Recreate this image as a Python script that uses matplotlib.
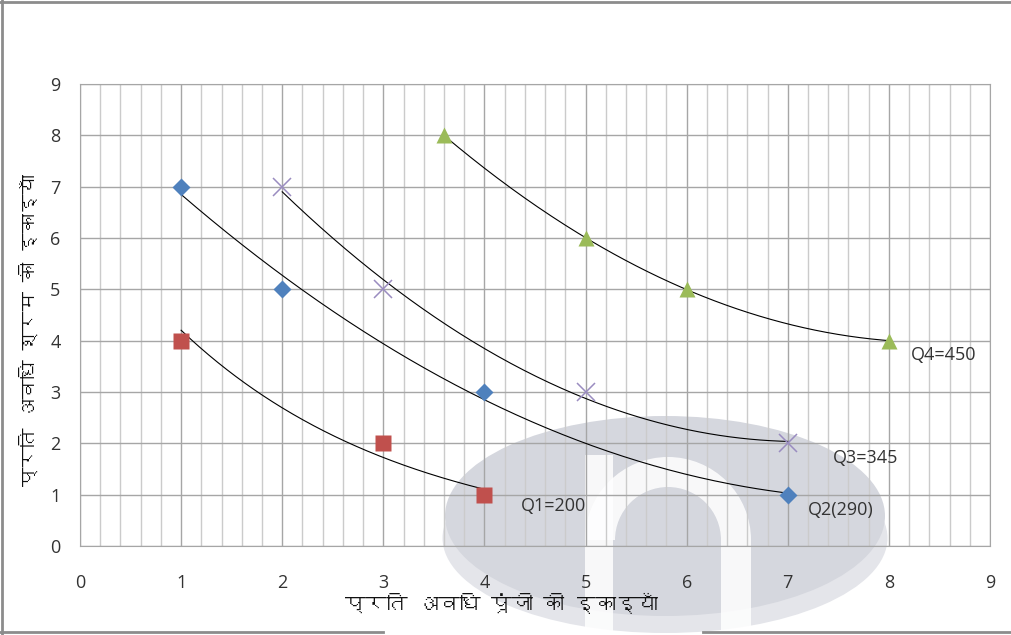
import numpy as np
import matplotlib
matplotlib.use("Agg")
import matplotlib.pyplot as plt
from matplotlib import font_manager
from matplotlib.ft2font import FT2Font
from matplotlib.patches import Ellipse, Rectangle, Wedge
from matplotlib.lines import Line2D
from matplotlib.ticker import MultipleLocator

# Datos de las isocuantas (capital en x, trabajo en y)
q1_x = [1, 3, 4]
q1_y = [4, 2, 1]
q2_x = [1, 2, 4, 7]
q2_y = [7, 5, 3, 1]
q3_x = [2, 3, 5, 7]
q3_y = [7, 5, 3, 2]
q4_x = [3.6, 5, 6, 8]
q4_y = [8, 6, 5, 4]

labels = ["Q1=200", "Q2(290)", "Q3=345", "Q4=450"]
label_pos = [(4.36, 0.78), (7.2, 0.7), (7.45, 1.72), (8.22, 3.72)]

xlabel = "प्रति अवधि पूंजी की इकाइयाँ"
ylabel = "प्रति अवधि श्रम की इकाइयाँ"


def find_font(ch):
    # buscar una fuente instalada que tenga el glifo devanagari
    for f in font_manager.fontManager.ttflist:
        try:
            if ord(ch) in FT2Font(f.fname).get_charmap():
                return f.name
        except Exception:
            pass
    return None


deva = find_font("क")
deva_family = [deva, "DejaVu Sans"] if deva else ["DejaVu Sans"]


def trend(x, y, kind):
    xs = np.linspace(min(x), max(x), 200)
    if kind == "exp":
        b, a = np.polyfit(x, np.log(y), 1)
        return xs, np.exp(a + b * xs)
    c = np.polyfit(x, y, 2)
    return xs, np.polyval(c, xs)


W, H = 1012, 635
fig = plt.figure(figsize=(W / 100, H / 100), dpi=100, facecolor="white")
ax = fig.add_axes([80 / W, 1 - 546 / H, 910 / W, 462 / H])
ax.set_facecolor("none")

# marca de agua (en pixeles de la figura, origen arriba a la izquierda)
px = matplotlib.transforms.Affine2D().scale(1 / W, -1 / H).translate(0, 1) + fig.transFigure
fig.add_artist(Ellipse((665, 538), 445, 190, transform=px, facecolor="#e4e5ea", edgecolor="none", zorder=-2))
fig.add_artist(Ellipse((665, 516), 440, 200, transform=px, facecolor="#d5d7de", edgecolor="none", zorder=-1.5))
fig.add_artist(Rectangle((585, 455), 28, 180, transform=px, facecolor="white", edgecolor="none", alpha=0.85, zorder=-1))
fig.add_artist(Wedge((668, 540), 83, 180, 360, width=30, transform=px, facecolor="white", edgecolor="none",
                     alpha=0.85, zorder=-1))
fig.add_artist(Rectangle((721, 540), 30, 95, transform=px, facecolor="white", edgecolor="none", alpha=0.85, zorder=-1))

# curvas de tendencia
for x, y, kind in [(q1_x, q1_y, "exp"), (q2_x, q2_y, "poly"), (q3_x, q3_y, "poly"), (q4_x, q4_y, "poly")]:
    xs, ys = trend(x, y, kind)
    ax.plot(xs, ys, color="black", lw=0.8, zorder=3)

ax.plot(q2_x, q2_y, "D", color="#4f81bd", ms=9, mec="none", zorder=4)
ax.plot(q1_x, q1_y, "s", color="#c0504d", ms=11.5, mec="none", zorder=4)
ax.plot(q3_x, q3_y, "x", color="#9a8cc0", ms=13, mew=1.1, zorder=4)
ax.plot(q4_x, q4_y, "^", color="#9bbb59", ms=11, mec="none", zorder=4)

for t, (lx, ly) in zip(labels, label_pos):
    ax.text(lx, ly, t, fontsize=13, color="#333333", family="Open Sans", va="center", ha="left", zorder=5)

ax.set_xlim(0, 9)
ax.set_ylim(0, 9)
ax.xaxis.set_major_locator(MultipleLocator(1))
ax.xaxis.set_minor_locator(MultipleLocator(0.2))
ax.yaxis.set_major_locator(MultipleLocator(1))
ax.set_axisbelow(True)
ax.grid(which="major", color="#a6a6a6", lw=1)
ax.grid(which="minor", axis="x", color="#cbcbcb", lw=1)
ax.tick_params(which="both", length=0)
ax.tick_params(axis="x", pad=20, labelsize=13, labelcolor="#333333")
ax.tick_params(axis="y", pad=14, labelsize=13, labelcolor="#333333")
for lab in ax.get_xticklabels() + ax.get_yticklabels():
    lab.set_family("Open Sans")
for s in ax.spines.values():
    s.set_color("#a6a6a6")

fig.text(501 / W, 1 - 603 / H, xlabel, fontsize=15, family=deva_family, ha="center", va="center", color="#111111")
fig.text(28 / W, 1 - 330 / H, ylabel, fontsize=14, family=deva_family, rotation=90, ha="center", va="center",
         color="#111111")

# marco de la figura
for xx, yy in [([2, 2], [0, 635]), ([0, 1012], [1.5, 1.5]), ([0, 383], [632, 632]), ([703, 1012], [632, 632])]:
    fig.add_artist(Line2D(xx, yy, color="#8c8c8c", lw=2, transform=px))

fig.savefig("out.png", dpi=100)
